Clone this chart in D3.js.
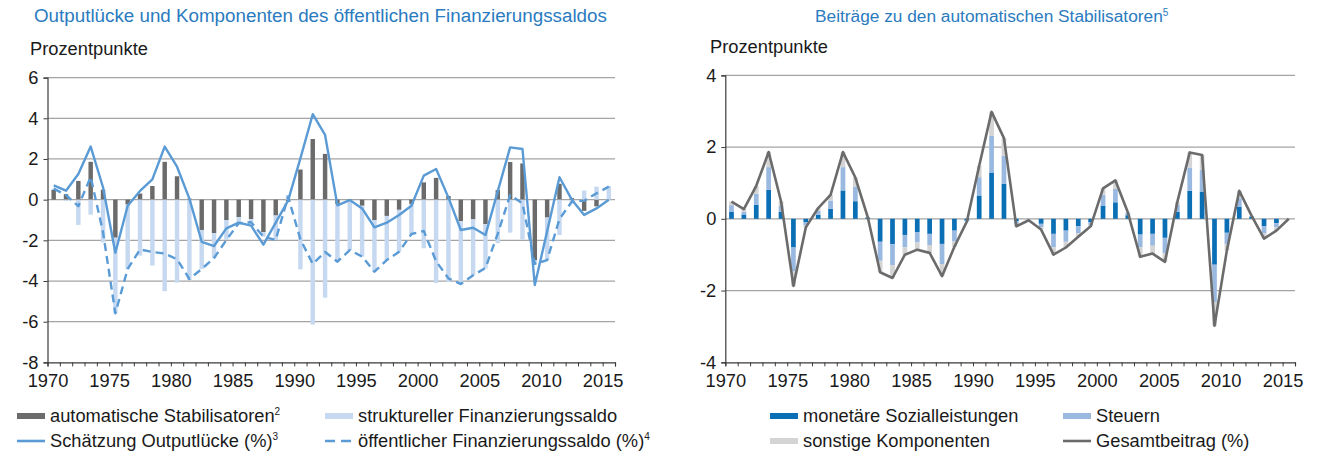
<!DOCTYPE html>
<html>
<head>
<meta charset="utf-8">
<script src="https://cdn.jsdelivr.net/npm/d3@7"></script>
<style>
  body { margin: 0; background: #fff; }
  svg text { font-family: "Liberation Sans", Arial, Helvetica, sans-serif; fill: #1a1a1a; }
</style>
</head>
<body>
<svg id="chart" width="1317" height="454"></svg>
<script>
// ---- Data -------------------------------------------------------------
const years = [1970,1971,1972,1973,1974,1975,1976,1977,1978,1979,
               1980,1981,1982,1983,1984,1985,1986,1987,1988,1989,
               1990,1991,1992,1993,1994,1995,1996,1997,1998,1999,
               2000,2001,2002,2003,2004,2005,2006,2007,2008,2009,
               2010,2011,2012,2013,2014,2015];
const labelYears = [1970,1975,1980,1985,1990,1995,2000,2005,2010,2015];

// automatic stabilisers = total contribution (% points)
const autoStabilisatoren = [0.48,0.27,0.92,1.86,0.49,-1.87,-0.24,0.30,0.67,1.86,
                            1.15,0.05,-1.49,-1.65,-1.00,-0.86,-0.95,-1.60,-0.78,-0.08,
                            1.48,2.98,2.25,-0.21,-0.04,-0.30,-1.00,-0.80,-0.50,-0.21,
                            0.85,1.07,0.18,-1.06,-0.97,-1.20,0.47,1.85,1.78,-2.98,
                            -0.88,0.78,0.08,-0.55,-0.33,0.00];
const strukturellerSaldo = [0.06,-0.06,-1.24,-0.74,-2.10,-3.72,-3.18,-2.75,-3.24,-4.50,
                            -4.08,-3.95,-1.92,-1.22,-0.98,-0.30,-0.16,-0.22,-1.20,0.23,
                            -3.43,-6.14,-4.82,-2.84,-2.44,-2.50,-2.54,-2.17,-2.06,-1.48,
                            -2.39,-4.10,-4.05,-3.09,-2.75,-2.18,-2.14,-1.62,-1.96,-0.18,
                            -2.09,-1.74,-0.18,0.45,0.64,0.67];
const outputluecke = [0.70,0.44,1.26,2.61,0.61,-2.61,-0.30,0.43,1.00,2.61,
                      1.62,0.05,-2.07,-2.28,-1.41,-1.13,-1.28,-2.21,-1.13,-0.05,
                      2.03,4.20,3.18,-0.28,-0.02,-0.43,-1.36,-1.13,-0.75,-0.30,
                      1.18,1.51,0.10,-1.49,-1.38,-1.74,0.42,2.57,2.49,-4.20,
                      -1.55,1.10,0.00,-0.75,-0.43,0.00];
const finanzierungssaldo = [0.54,0.23,-0.32,1.12,-1.60,-5.59,-3.40,-2.45,-2.57,-2.65,
                            -2.93,-3.90,-3.41,-2.87,-1.98,-1.16,-1.11,-1.82,-1.98,0.15,
                            -1.95,-3.16,-2.57,-3.05,-2.48,-2.80,-3.54,-2.97,-2.56,-1.69,
                            -1.54,-3.03,-3.87,-4.15,-3.72,-3.36,-1.67,0.23,-0.18,-3.16,
                            -2.97,-0.95,-0.10,-0.05,0.31,0.64];

// components of the automatic stabilisers (% points)
const sozialleistungen = [0.20,0.12,0.39,0.81,0.20,-0.80,-0.10,0.11,0.28,0.79,
                          0.49,0.04,-0.64,-0.71,-0.45,-0.37,-0.42,-0.70,-0.33,-0.05,
                          0.65,1.29,0.98,-0.07,0.00,-0.14,-0.42,-0.33,-0.21,-0.09,
                          0.37,0.46,0.10,-0.44,-0.42,-0.53,0.20,0.78,0.76,-1.28,
                          -0.39,0.34,0.06,-0.21,-0.12,0.00];
const steuern = [0.18,0.08,0.31,0.63,0.17,-0.67,-0.08,0.11,0.23,0.65,
                 0.41,0.00,-0.53,-0.58,-0.34,-0.29,-0.31,-0.56,-0.30,-0.02,
                 0.51,1.02,0.78,-0.07,-0.02,-0.10,-0.37,-0.31,-0.19,-0.08,
                 0.30,0.37,0.07,-0.36,-0.33,-0.43,0.19,0.65,0.60,-1.04,
                 -0.31,0.23,0.02,-0.19,-0.12,0.00];
const sonstige = [0.10,0.07,0.22,0.42,0.12,-0.40,-0.06,0.08,0.16,0.42,
                  0.25,0.01,-0.32,-0.36,-0.21,-0.20,-0.22,-0.34,-0.15,-0.01,
                  0.32,0.67,0.49,-0.07,-0.02,-0.06,-0.21,-0.16,-0.10,-0.04,
                  0.18,0.24,0.01,-0.26,-0.23,-0.24,0.08,0.42,0.42,-0.66,
                  -0.18,0.21,0.00,-0.15,-0.09,0.00];

const leftTicks = [6,4,2,0,-2,-4,-6,-8];
const rightTicks = [4,2,0,-2,-4];

// ---- Styles -------------------------------------------------------------
const C = {
  title: "#2a7bbf",
  grid: "#a4a4a4",
  axis: "#3a3a3a",
  autoBar: "#6b6b6b",
  structBar: "#c6d9f1",
  lineBlue: "#5b9bd5",
  soz: "#0b6fb6",
  steu: "#99b9e1",
  sonst: "#d4d4d4",
  total: "#6b6b6b"
};
const FS = 18.3;

const svg = d3.select("#chart");

// ---- helpers ------------------------------------------------------------
function drawFrame(g, x0, x1, y, ticks, edges) {
  // horizontal gridlines (the lowest tick is the category axis)
  g.append("g").selectAll("line")
    .data(ticks.slice(0, -1))
    .join("line")
      .attr("x1", x0).attr("x2", x1)
      .attr("y1", d => y(d)).attr("y2", d => y(d))
      .attr("stroke", C.grid).attr("stroke-width", 1.2);

  const yAxis = d3.axisLeft(y).tickValues(ticks).tickSize(4).tickPadding(5)
    .tickFormat(d => d < 0 ? "-" + Math.abs(d) : d);
  const ya = g.append("g").attr("transform", `translate(${x0},0)`).call(yAxis);
  ya.select(".domain").attr("stroke", C.axis).attr("stroke-width", 1.2);
  ya.selectAll(".tick line").attr("stroke", C.axis);
  ya.selectAll("text").attr("font-size", FS).attr("fill", "#1a1a1a");

  const xAxis = d3.axisBottom(edges).tickValues(d3.range(years[0], years[years.length - 1] + 2))
    .tickSize(4).tickPadding(8)
    .tickFormat(d => labelYears.includes(d) ? d : "");
  const xa = g.append("g").attr("transform", `translate(0,${y(ticks[ticks.length - 1])})`).call(xAxis);
  xa.select(".domain").attr("stroke", C.axis).attr("stroke-width", 1.2);
  xa.selectAll(".tick line").attr("stroke", C.axis);
  xa.selectAll("text").attr("font-size", FS).attr("fill", "#1a1a1a");
}

// ---- Left panel: output gap and budget balance components ---------------
{
  const x0 = 47.5, x1 = 615;
  const g = svg.append("g");
  const y = d3.scaleLinear().domain([-8, 6]).range([362.4, 77.6]);
  const xb = d3.scaleBand().domain(years).range([x0, x1]).paddingInner(0.64).paddingOuter(0.32);
  const edges = d3.scaleLinear().domain([years[0], years[years.length - 1] + 1]).range([x0, x1]);

  g.append("text").attr("x", 34).attr("y", 22).attr("font-size", 18.8).style("fill", C.title)
    .text("Outputlücke und Komponenten des öffentlichen Finanzierungssaldos");
  g.append("text").attr("x", 30).attr("y", 55).attr("font-size", FS).text("Prozentpunkte");

  drawFrame(g, x0, x1, y, leftTicks, edges);

  const rows = years.map((yr, i) => ({ year: yr, auto: autoStabilisatoren[i], struct: strukturellerSaldo[i] }));
  const stacked = d3.stack().keys(["auto", "struct"]).offset(d3.stackOffsetDiverging)(rows);
  const fills = { auto: C.autoBar, struct: C.structBar };
  g.append("g").selectAll("g").data(stacked).join("g")
    .attr("fill", s => fills[s.key])
    .selectAll("rect").data(s => s).join("rect")
      .attr("x", d => xb(d.data.year))
      .attr("width", xb.bandwidth())
      .attr("y", d => y(Math.max(d[0], d[1])))
      .attr("height", d => Math.abs(y(d[0]) - y(d[1])));

  const cx = yr => xb(yr) + xb.bandwidth() / 2;
  const lineOf = arr => d3.line().x((d, i) => cx(years[i])).y(d => y(d))(arr);
  g.append("path").attr("d", lineOf(finanzierungssaldo))
    .attr("fill", "none").attr("stroke", C.lineBlue).attr("stroke-width", 2.4)
    .attr("stroke-dasharray", "8,5").attr("stroke-linejoin", "round");
  g.append("path").attr("d", lineOf(outputluecke))
    .attr("fill", "none").attr("stroke", C.lineBlue).attr("stroke-width", 2.4)
    .attr("stroke-linejoin", "round");
}

// ---- Right panel: contributions to automatic stabilisers ----------------
{
  const x0 = 725.3, x1 = 1295;
  const g = svg.append("g");
  const y = d3.scaleLinear().domain([-4, 4]).range([362.3, 75.3]);
  const xb = d3.scaleBand().domain(years).range([x0, x1]).paddingInner(0.62).paddingOuter(0.31);
  const edges = d3.scaleLinear().domain([years[0], years[years.length - 1] + 1]).range([x0, x1]);

  const t = g.append("text").attr("x", 815).attr("y", 22).attr("font-size", 17.3).style("fill", C.title);
  t.append("tspan").style("fill", C.title).text("Beiträge zu den automatischen Stabilisatoren");
  t.append("tspan").style("fill", C.title).attr("font-size", 10).attr("dy", -6).text("5");
  g.append("text").attr("x", 710).attr("y", 53).attr("font-size", FS).text("Prozentpunkte");

  drawFrame(g, x0, x1, y, rightTicks, edges);

  const rows = years.map((yr, i) => ({ year: yr, soz: sozialleistungen[i], steu: steuern[i], sonst: sonstige[i] }));
  const stacked = d3.stack().keys(["soz", "steu", "sonst"]).offset(d3.stackOffsetDiverging)(rows);
  const fills = { soz: C.soz, steu: C.steu, sonst: C.sonst };
  g.append("g").selectAll("g").data(stacked).join("g")
    .attr("fill", s => fills[s.key])
    .selectAll("rect").data(s => s).join("rect")
      .attr("x", d => xb(d.data.year))
      .attr("width", xb.bandwidth())
      .attr("y", d => y(Math.max(d[0], d[1])))
      .attr("height", d => Math.abs(y(d[0]) - y(d[1])));

  const cx = yr => xb(yr) + xb.bandwidth() / 2;
  g.append("path")
    .attr("d", d3.line().x((d, i) => cx(years[i])).y(d => y(d))(autoStabilisatoren))
    .attr("fill", "none").attr("stroke", C.total).attr("stroke-width", 2.6)
    .attr("stroke-linejoin", "round");
}

// ---- Legends ------------------------------------------------------------
const legendLeft = [
  { label: "automatische Stabilisatoren", sup: "2", type: "rect", color: C.autoBar, x: 17, y: 416 },
  { label: "struktureller Finanzierungssaldo", sup: "", type: "rect", color: C.structBar, x: 325, y: 416 },
  { label: "Schätzung Outputlücke (%)", sup: "3", type: "line", color: C.lineBlue, x: 17, y: 441 },
  { label: "öffentlicher Finanzierungssaldo (%)", sup: "4", type: "dash", color: C.lineBlue, x: 325, y: 441 }
];
const legendRight = [
  { label: "monetäre Sozialleistungen", sup: "", type: "rect", color: C.soz, x: 770, y: 416 },
  { label: "Steuern", sup: "", type: "rect", color: C.steu, x: 1063, y: 416 },
  { label: "sonstige Komponenten", sup: "", type: "rect", color: C.sonst, x: 770, y: 441 },
  { label: "Gesamtbeitrag (%)", sup: "", type: "line", color: C.total, x: 1063, y: 441 }
];

const lg = svg.append("g").selectAll("g").data(legendLeft.concat(legendRight)).join("g")
  .attr("transform", d => `translate(${d.x},${d.y})`);
lg.filter(d => d.type === "rect").append("rect")
  .attr("x", 0).attr("y", -3).attr("width", 28).attr("height", 6).attr("fill", d => d.color);
lg.filter(d => d.type !== "rect").append("line")
  .attr("x1", 0).attr("x2", 28).attr("y1", 0).attr("y2", 0)
  .attr("stroke", d => d.color).attr("stroke-width", 2.6)
  .attr("stroke-dasharray", d => d.type === "dash" ? "10,6" : null);
const lt = lg.append("text").attr("x", 33).attr("y", 6).attr("font-size", FS);
lt.append("tspan").text(d => d.label);
lt.append("tspan").attr("font-size", 10).attr("dy", -7).text(d => d.sup);
</script>
</body>
</html>
